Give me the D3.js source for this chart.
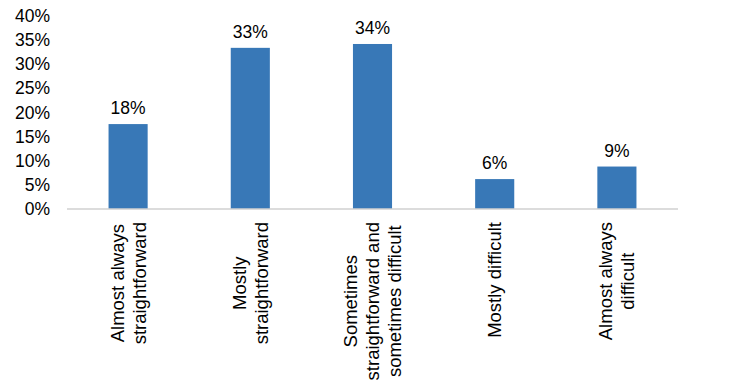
<!DOCTYPE html>
<html>
<head>
<meta charset="utf-8">
<script src="https://cdn.jsdelivr.net/npm/d3@7"></script>
<style>
  body { margin: 0; background: #fff; }
  text { font-family: "Liberation Sans", Arial, sans-serif; fill: #000; }
</style>
</head>
<body>
<div id="chart"></div>
<script>
// data
const categories = [
  ["Almost always", "straightforward"],
  ["Mostly", "straightforward"],
  ["Sometimes", "straightforward and", "sometimes difficult"],
  ["Mostly difficult"],
  ["Almost always", "difficult"]
];
const values = [17.6, 33.4, 34.2, 6.2, 8.8];
const valueLabels = ["18%", "33%", "34%", "6%", "9%"];
const yTicks = [0, 5, 10, 15, 20, 25, 30, 35, 40];

const W = 738, H = 386;
const plot = {left: 67, right: 678, top: 16, bottom: 209};

const svg = d3.select("#chart").append("svg")
  .attr("width", W)
  .attr("height", H);

const x = d3.scaleBand()
  .domain(d3.range(values.length))
  .range([plot.left, plot.right])
  .paddingInner(0.68)
  .paddingOuter(0.34);

const y = d3.scaleLinear()
  .domain([0, 40])
  .range([plot.bottom, plot.top]);

// y axis labels only
const yAxis = svg.append("g")
  .attr("transform", `translate(50,0)`)
  .call(d3.axisLeft(y).tickValues(yTicks).tickSize(0).tickPadding(0).tickFormat(d => d + "%"));
yAxis.select(".domain").remove();
yAxis.selectAll("text")
  .attr("font-size", "17.5px")
  .style("font-family", '"Liberation Sans", Arial, sans-serif')
  .attr("fill", "#000");

// bars
svg.selectAll(".bar")
  .data(values)
  .join("rect")
  .attr("class", "bar")
  .attr("x", (d, i) => x(i))
  .attr("width", x.bandwidth())
  .attr("y", d => y(d))
  .attr("height", d => y(0) - y(d))
  .attr("fill", "#3878b7");

// baseline
svg.append("line")
  .attr("x1", plot.left).attr("x2", plot.right)
  .attr("y1", y(0)).attr("y2", y(0))
  .attr("stroke", "#d0d0d0")
  .attr("stroke-width", 1.5);

// value labels
svg.selectAll(".vlab")
  .data(values)
  .join("text")
  .attr("class", "vlab")
  .attr("x", (d, i) => x(i) + x.bandwidth() / 2)
  .attr("y", d => y(d) - 10)
  .attr("text-anchor", "middle")
  .attr("font-size", "17.5px")
  .text((d, i) => valueLabels[i]);

// category labels, rotated, centered as a block
const lineGap = 22;
categories.forEach((lines, i) => {
  const cx = x(i) + x.bandwidth() / 2;
  const g = svg.append("g");
  const t = g.selectAll("text")
    .data(lines)
    .join("text")
    .attr("text-anchor", "middle")
    .attr("font-size", "18.5px")
    .text(d => d);
  let maxLen = 0;
  t.each(function() { maxLen = Math.max(maxLen, this.getComputedTextLength()); });
  const cy = 222 + maxLen / 2;
  const off = (lines.length - 1) / 2;
  t.attr("transform", (d, j) => `translate(${cx + (j - off) * lineGap},${cy}) rotate(-90)`)
    .attr("dy", "0.35em");
});
</script>
</body>
</html>
